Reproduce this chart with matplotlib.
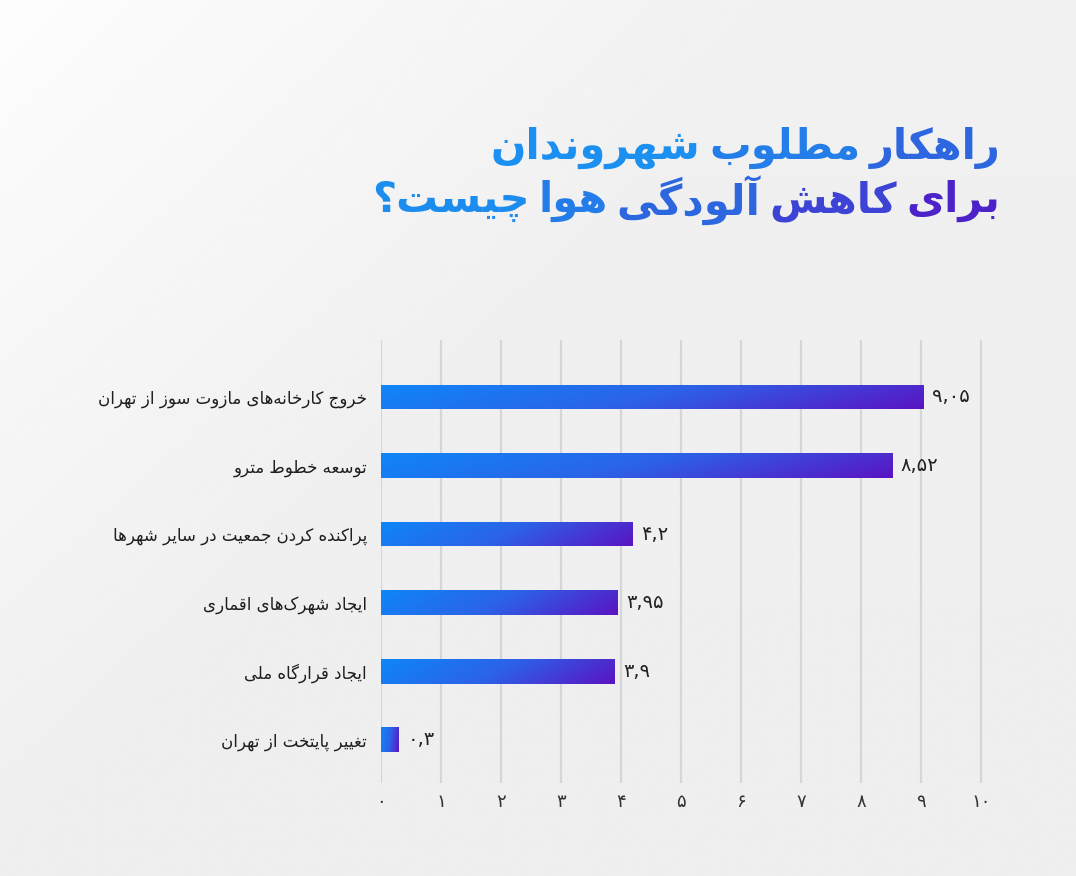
import numpy as np
import matplotlib
matplotlib.use("Agg")
import matplotlib.pyplot as plt
from matplotlib.colors import LinearSegmentedColormap

# ---------------- data ----------------
title_line1 = "راهکار مطلوب شهروندان"
title_line2 = "برای کاهش آلودگی هوا چیست؟"
categories = [
    "خروج کارخانه\u200cهای مازوت سوز از تهران",
    "توسعه خطوط مترو",
    "پراکنده کردن جمعیت در سایر شهرها",
    "ایجاد شهرک\u200cهای اقماری",
    "ایجاد قرارگاه ملی",
    "تغییر پایتخت از تهران",
]
values = [9.05, 8.52, 4.2, 3.95, 3.9, 0.3]
xticks = list(range(0, 11))

# ---------------- minimal Persian shaping ----------------
FORMS = {
    '\u0627': ('\uFE8D', '\uFE8E', None, None),
    '\u0622': ('\uFE81', '\uFE82', None, None),
    '\u0628': ('\uFE8F', '\uFE90', '\uFE91', '\uFE92'),
    '\u067E': ('\uFB56', '\uFB57', '\uFB58', '\uFB59'),
    '\u062A': ('\uFE95', '\uFE96', '\uFE97', '\uFE98'),
    '\u062B': ('\uFE99', '\uFE9A', '\uFE9B', '\uFE9C'),
    '\u062C': ('\uFE9D', '\uFE9E', '\uFE9F', '\uFEA0'),
    '\u0686': ('\uFB7A', '\uFB7B', '\uFB7C', '\uFB7D'),
    '\u062D': ('\uFEA1', '\uFEA2', '\uFEA3', '\uFEA4'),
    '\u062E': ('\uFEA5', '\uFEA6', '\uFEA7', '\uFEA8'),
    '\u062F': ('\uFEA9', '\uFEAA', None, None),
    '\u0630': ('\uFEAB', '\uFEAC', None, None),
    '\u0631': ('\uFEAD', '\uFEAE', None, None),
    '\u0632': ('\uFEAF', '\uFEB0', None, None),
    '\u0698': ('\uFB8A', '\uFB8B', None, None),
    '\u0633': ('\uFEB1', '\uFEB2', '\uFEB3', '\uFEB4'),
    '\u0634': ('\uFEB5', '\uFEB6', '\uFEB7', '\uFEB8'),
    '\u0635': ('\uFEB9', '\uFEBA', '\uFEBB', '\uFEBC'),
    '\u0636': ('\uFEBD', '\uFEBE', '\uFEBF', '\uFEC0'),
    '\u0637': ('\uFEC1', '\uFEC2', '\uFEC3', '\uFEC4'),
    '\u0638': ('\uFEC5', '\uFEC6', '\uFEC7', '\uFEC8'),
    '\u0639': ('\uFEC9', '\uFECA', '\uFECB', '\uFECC'),
    '\u063A': ('\uFECD', '\uFECE', '\uFECF', '\uFED0'),
    '\u0641': ('\uFED1', '\uFED2', '\uFED3', '\uFED4'),
    '\u0642': ('\uFED5', '\uFED6', '\uFED7', '\uFED8'),
    '\u06A9': ('\uFB8E', '\uFB8F', '\uFB90', '\uFB91'),
    '\u06AF': ('\uFB92', '\uFB93', '\uFB94', '\uFB95'),
    '\u0644': ('\uFEDD', '\uFEDE', '\uFEDF', '\uFEE0'),
    '\u0645': ('\uFEE1', '\uFEE2', '\uFEE3', '\uFEE4'),
    '\u0646': ('\uFEE5', '\uFEE6', '\uFEE7', '\uFEE8'),
    '\u0648': ('\uFEED', '\uFEEE', None, None),
    '\u0647': ('\uFEE9', '\uFEEA', '\uFEEB', '\uFEEC'),
    '\u06CC': ('\uFBFC', '\uFBFD', '\uFBFE', '\uFBFF'),
}
LAM_ALEF = {'\u0627': ('\uFEFB', '\uFEFC'), '\u0622': ('\uFEF5', '\uFEF6')}


def dual(ch):
    return ch in FORMS and FORMS[ch][2] is not None


def shape(text):
    chars = list(text)
    out = []
    i = 0
    n = len(chars)
    while i < n:
        c = chars[i]
        if c not in FORMS:
            if c != '\u200c':
                out.append(c)
            i += 1
            continue
        prev = chars[i - 1] if i > 0 else None
        jp = prev is not None and dual(prev)
        if c == '\u0644' and i + 1 < n and chars[i + 1] in LAM_ALEF:
            iso, fin = LAM_ALEF[chars[i + 1]]
            out.append(fin if jp else iso)
            i += 2
            continue
        nxt = chars[i + 1] if i + 1 < n else None
        jn = dual(c) and nxt is not None and nxt in FORMS
        iso, fin, ini, med = FORMS[c]
        if jp and jn:
            out.append(med)
        elif jp:
            out.append(fin)
        elif jn:
            out.append(ini)
        else:
            out.append(iso)
        i += 1
    return ''.join(reversed(out))


FA_DIGITS = str.maketrans("0123456789.", "۰۱۲۳۴۵۶۷۸۹,")


def fa_num(v):
    return f"{v:g}".translate(FA_DIGITS)


# ---------------- figure ----------------
W, H = 1076, 876
fig = plt.figure(figsize=(W / 100, H / 100), dpi=100)
fig.patch.set_facecolor("#eeeef0")

# soft background
bg = fig.add_axes([0, 0, 1, 1], zorder=-10)
yy, xx = np.mgrid[0:1:300j, 0:1:300j]
d = xx * 1.0 + yy * 0.75
light = np.clip(1 - d / 0.75, 0, 1)
bgimg = 0.935 + 0.05 * light + 0.008 * (1 - yy)
bg.imshow(bgimg, cmap="gray", vmin=0, vmax=1, extent=[0, 1, 0, 1],
          aspect="auto", origin="upper", interpolation="bicubic")
bg.set_axis_off()

ax = fig.add_axes([381 / W, 1 - 783 / H, 618 / W, 443 / H])
ax.patch.set_alpha(0)

ypos = np.arange(len(categories))
bars = ax.barh(ypos, values, height=0.36, color="none", edgecolor="none", zorder=3)

cmap = LinearSegmentedColormap.from_list("bar", ["#0f86f7", "#2c62e8", "#5a14c2"])
gi, gj = np.mgrid[0:1:20j, 0:1:256j]
grad = 0.85 * gj + 0.15 * gi
for rect in bars:
    x0, y0, w, h = rect.get_x(), rect.get_y(), rect.get_width(), rect.get_height()
    im = ax.imshow(grad, cmap=cmap, vmin=0, vmax=1, aspect="auto",
                   extent=(x0, x0 + w, y0, y0 + h), origin="lower",
                   interpolation="bicubic", zorder=3)
    im.set_clip_path(rect)

for rect, v in zip(bars, values):
    ax.annotate(fa_num(v), (rect.get_x() + rect.get_width(), rect.get_y() + rect.get_height() / 2),
                xytext=(6, 0), textcoords="offset points", va="center", ha="left",
                fontsize=14, color="#222222", family="DejaVu Sans")

ax.set_xlim(0, 10.3)
ax.set_ylim(len(categories) - 0.37, -0.83)
ax.set_xticks(xticks)
ax.set_xticklabels([fa_num(t) for t in xticks], fontsize=13, color="#333333")
ax.set_yticks(ypos)
ax.set_yticklabels([shape(c) for c in categories], fontsize=12, color="#1e1e1e")
ax.tick_params(axis="x", length=0, pad=7)
ax.tick_params(axis="y", length=0, pad=10)
ax.grid(axis="x", color="#d6d6d8", linewidth=1.6, zorder=0)
ax.set_axisbelow(True)
for s in ax.spines.values():
    s.set_visible(False)

# ---------------- title with word-wise gradient colours ----------------
title_cmap = LinearSegmentedColormap.from_list("title", ["#1a93f2", "#2a6fe3", "#4c22c9"])
renderer = fig.canvas.get_renderer()
space_px = 9
right_px = 1000
# (text, vertical centre in px, colour position of first word, of last word)
for line, yc, t_first, t_last in [(title_line1, 148, 0.55, 0.05),
                                  (title_line2, 201, 1.0, 0.1)]:
    words = line.split(" ")
    x_px = right_px
    for k, word in enumerate(words):
        frac = k / (len(words) - 1)
        t = t_first + (t_last - t_first) * frac
        txt = fig.text(x_px / W, 1 - yc / H, shape(word), ha="right", va="center",
                       fontsize=30, fontweight="bold", color=title_cmap(t),
                       family="DejaVu Sans")
        bb = txt.get_window_extent(renderer)
        x_px -= bb.width + space_px

fig.savefig("out.png", dpi=100, facecolor=fig.get_facecolor())
